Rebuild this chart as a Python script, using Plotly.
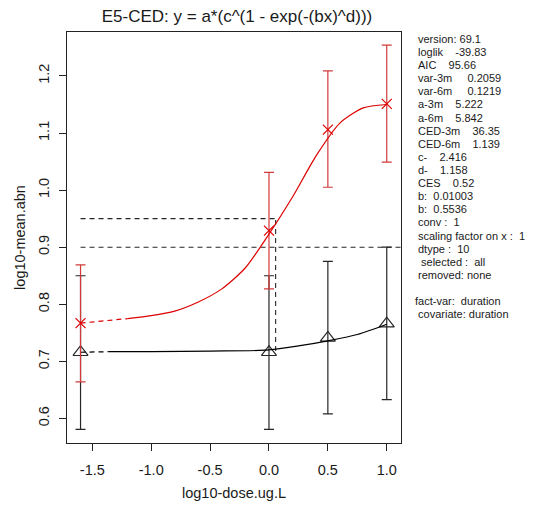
import plotly.graph_objects as go

# ---- data ----
dose_log = [-1.6, 0.0, 0.5, 1.0]

mean_6m = [0.767, 0.929, 1.106, 1.151]
upper_6m = [0.869, 1.031, 1.209, 1.254]
lower_6m = [0.664, 0.827, 1.005, 1.049]

mean_3m = [0.716, 0.716, 0.741, 0.766]
upper_3m = [0.850, 0.850, 0.875, 0.900]
lower_3m = [0.581, 0.581, 0.608, 0.633]

curve_6m_x = [-1.2, -1.0, -0.8, -0.6, -0.4, -0.2, 0.0, 0.2, 0.4, 0.6, 0.8, 1.0]
curve_6m_y = [0.775, 0.780, 0.788, 0.804, 0.827, 0.864, 0.923, 0.988, 1.060, 1.117, 1.144, 1.150]
curve_6m_dash_x = [-1.6, -1.2]
curve_6m_dash_y = [0.767, 0.775]

curve_3m_x = [-1.36, -1.0, -0.5, 0.0, 0.25, 0.5, 0.75, 1.0]
curve_3m_y = [0.717, 0.717, 0.718, 0.720, 0.727, 0.736, 0.747, 0.765]
curve_3m_dash_x = [-1.6, -1.36]
curve_3m_dash_y = [0.716, 0.717]

ces_levels = [0.95, 0.90]          # 6m, 3m
ced_log = [0.0565, 1.5605]         # log10(1.139), log10(36.35)
ced_vline_bottom = [0.718, 0.718]

x_ticks = [-1.5, -1.0, -0.5, 0.0, 0.5, 1.0]
x_ticktext = ["-1.5", "-1.0", "-0.5", "0.0", "0.5", "1.0"]
y_ticks = [0.6, 0.7, 0.8, 0.9, 1.0, 1.1, 1.2]
y_ticktext = ["0.6", "0.7", "0.8", "0.9", "1.0", "1.1", "1.2"]

info_lines = [
    "version: 69.1",
    "loglik    -39.83",
    "AIC    95.66",
    "var-3m     0.2059",
    "var-6m     0.1219",
    "a-3m    5.222",
    "a-6m    5.842",
    "CED-3m    36.35",
    "CED-6m    1.139",
    "c-    2.416",
    "d-    1.158",
    "CES    0.52",
    "b:  0.01003",
    "b:  0.5536",
    "conv :  1",
    "scaling factor on x :  1",
    "dtype :  10",
    " selected :  all",
    "removed: none",
    "",
    "fact-var:  duration",
    " covariate: duration",
]

TITLE = "E5-CED: y = a*(c^(1 - exp(-(bx)^d)))"
X_TITLE = "log10-dose.ug.L"
Y_TITLE = "log10-mean.abn"

# ---- style ----
FONT = "Liberation Sans, Arial, sans-serif"
RED = "#dd0000"
RED_ERR = "#d23a3a"
DARK = "#262626"
XR = [-1.715, 1.121]
YR = [0.557, 1.277]
OFF = 8                      # page body margin of the html page
W, H = 533 - OFF, 506 - OFF  # figure size so that it fits the window
L, T = 67 - OFF, 32 - OFF    # plot box left/top in page px: 67, 32
R = W - (401 - OFF)          # plot box right at page px 401
B = H - (443 - OFF)          # plot box bottom at page px 443
PW, PH = W - L - R, H - T - B

fig = go.Figure()

# reference (CES) dashed lines
for lev, cx, vb in zip(ces_levels, ced_log, ced_vline_bottom):
    fig.add_trace(go.Scatter(x=[dose_log[0], cx], y=[lev, lev], mode="lines",
                             line=dict(color=DARK, width=1.1, dash="5px,4px"),
                             hoverinfo="skip", showlegend=False))
    fig.add_trace(go.Scatter(x=[cx, cx], y=[vb, lev], mode="lines",
                             line=dict(color=DARK, width=1.1, dash="5px,4px"),
                             hoverinfo="skip", showlegend=False))

# 3m group (black)
fig.add_trace(go.Scatter(
    x=dose_log, y=mean_3m, mode="markers", name="3m",
    marker=dict(symbol="triangle-up-open", size=13, color=DARK,
                line=dict(color=DARK, width=1.2)),
    error_y=dict(type="data", symmetric=False,
                 array=[u - m for u, m in zip(upper_3m, mean_3m)],
                 arrayminus=[m - l for m, l in zip(mean_3m, lower_3m)],
                 color=DARK, thickness=1.2, width=5),
    showlegend=False))
fig.add_trace(go.Scatter(x=curve_3m_dash_x, y=curve_3m_dash_y, mode="lines",
                         line=dict(color="black", width=1.2, dash="5px,4px"),
                         showlegend=False, hoverinfo="skip"))
fig.add_trace(go.Scatter(x=curve_3m_x, y=curve_3m_y, mode="lines",
                         line=dict(color="black", width=1.2, shape="spline", smoothing=0.8),
                         showlegend=False))

# 6m group (red)
fig.add_trace(go.Scatter(
    x=dose_log, y=mean_6m, mode="markers", name="6m",
    marker=dict(symbol="x-thin", size=10, color=RED,
                line=dict(color=RED, width=1.2)),
    error_y=dict(type="data", symmetric=False,
                 array=[u - m for u, m in zip(upper_6m, mean_6m)],
                 arrayminus=[m - l for m, l in zip(mean_6m, lower_6m)],
                 color=RED_ERR, thickness=1.2, width=5),
    showlegend=False))
fig.add_trace(go.Scatter(x=curve_6m_dash_x, y=curve_6m_dash_y, mode="lines",
                         line=dict(color=RED, width=1.2, dash="5px,4px"),
                         showlegend=False, hoverinfo="skip"))
fig.add_trace(go.Scatter(x=curve_6m_x, y=curve_6m_y, mode="lines",
                         line=dict(color=RED, width=1.2, shape="spline", smoothing=0.7),
                         showlegend=False))

# right-hand info text (positions in page px)
annotations = []
line_h = 13.1
y0_px = 39
for i, txt in enumerate(info_lines):
    if not txt:
        continue
    px_x = 413 if txt.startswith("fact-var") or txt.startswith(" covariate") else 416
    fy = y0_px + i * line_h - OFF
    fx = px_x - OFF
    annotations.append(dict(
        x=(fx - L) / PW, y=(H - B - fy) / PH, xref="paper", yref="paper",
        xanchor="left", yanchor="middle", showarrow=False,
        text=txt.replace(" ", "\u00a0"),
        font=dict(family=FONT, size=11, color="#1a1a1a")))

axis_font = dict(family=FONT, size=14.5, color="#1a1a1a")
fig.update_layout(
    width=W, height=H,
    margin=dict(l=L, r=R, t=T, b=B, autoexpand=False),
    paper_bgcolor="white", plot_bgcolor="white",
    title=dict(text=TITLE, x=(237 - OFF) / W, xanchor="center", xref="container",
               y=1 - 2.5 / H, yanchor="top", yref="container", pad=dict(t=0, b=0),
               font=dict(family=FONT, size=17, color="#1a1a1a")),
    xaxis=dict(range=XR, showgrid=False, zeroline=False, automargin=False,
               showline=True, mirror=True, linecolor="#222", linewidth=1.3,
               ticks="outside", ticklen=7, tickcolor="#222", tickwidth=1,
               ticklabelstandoff=6,
               tickvals=x_ticks, ticktext=x_ticktext, tickfont=axis_font,
               title=dict(text=X_TITLE, font=axis_font, standoff=11)),
    yaxis=dict(range=YR, showgrid=False, zeroline=False, automargin=False,
               showline=True, mirror=True, linecolor="#222", linewidth=1.3,
               ticks="outside", ticklen=7, tickcolor="#222", tickwidth=1,
               ticklabelstandoff=4, tickangle=-90,
               tickvals=y_ticks, ticktext=y_ticktext, tickfont=axis_font,
               title=dict(text=Y_TITLE, font=axis_font, standoff=6)),
    annotations=annotations,
    showlegend=False,
)

fig.write_html("out.html")
